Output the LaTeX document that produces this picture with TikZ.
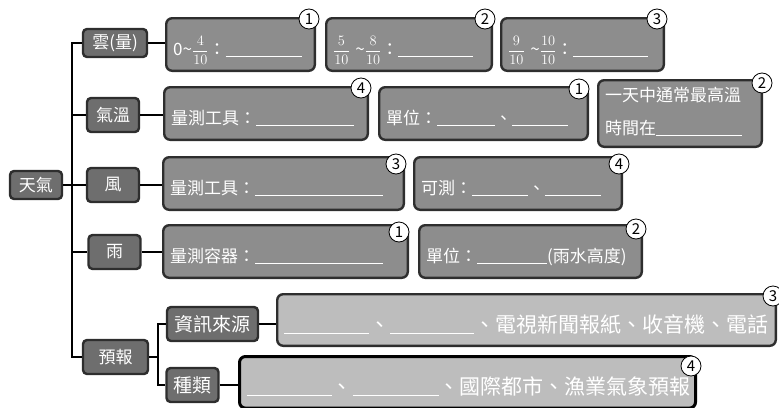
\documentclass[tikz,border=0pt]{standalone}
\usepackage[no-math]{fontspec}
\setmainfont{Noto Sans CJK TC}
\usepackage{amsmath}
\usepackage{xcolor}
\usepackage{tikz}

\definecolor{labgray}{HTML}{6E6E6E}
\definecolor{ansgray}{HTML}{8D8D8D}
\definecolor{palegray}{HTML}{BDBDBD}
\definecolor{rimgray}{HTML}{2E2E2E}
\newcommand{\blankln}[1]{\rule[-2pt]{#1pt}{1.3pt}}
\newcommand{\tenths}[1]{{\fontsize{14}{14}\selectfont$\dfrac{#1}{10}$}}

\begin{document}
\begin{tikzpicture}[x=1pt, y=-1pt, line width=2.4pt, every node/.style={text=white},
	lab/.style={draw=rimgray, fill=labgray, rounded corners=4pt, minimum width=52pt, minimum height=34pt, inner sep=4pt, font=\fontsize{17}{20}\selectfont},
	ans/.style={draw=rimgray, fill=ansgray, rounded corners=6pt, anchor=north west, inner xsep=7pt, inner ysep=9.8pt, text height=27pt, text depth=6pt, font=\fontsize{17}{20}\selectfont},
	big/.style={fill=palegray, text height=28pt, text depth=4pt, font=\fontsize{21}{24}\selectfont},
	num/.style={circle, draw=black, line width=0.8pt, fill=white, text=black, inner sep=0pt, minimum size=20pt, font=\fontsize{15}{15}\selectfont}]
	\useasboundingbox (0,0) rectangle (779,407);
	\node[lab, minimum height=28pt] (weather) at (36,185) {天氣};
	\node[lab, minimum height=28pt, minimum width=64pt] (cloud) at (115,43) {雲(量)};
	\node[lab] (temp) at (113,115) {氣溫};
	\node[lab] (wind) at (113,185) {風};
	\node[lab] (rain) at (114.5,252) {雨};
	\node[lab, minimum width=65pt] (fcast) at (115.5,357) {預報};
	\node[lab, minimum width=91pt, font=\fontsize{19}{22}\selectfont] (source) at (212.5,324) {資訊來源};
	\node[lab, font=\fontsize{19}{22}\selectfont] (kind) at (192.5,385) {種類};

	\node[ans, text width=134.6pt] (c1) at (165,17) {0\textasciitilde\tenths{4}：\blankln{76}};
	\node[ans, text width=151.6pt] (c2) at (325,17) {\tenths{5} \textasciitilde\tenths{8}：\blankln{75}};
	\node[ans, text width=148.6pt] (c3) at (500,17) {\tenths{9} \textasciitilde\tenths{10}：\blankln{75}};
	\node[ans, text width=189.6pt] (t1) at (163,86) {量測工具：\blankln{98}};
	\node[ans, text width=194.6pt] (t2) at (378,86) {單位：\blankln{58}、\blankln{56}};
	\node[ans, text width=149.6pt, text height=11pt, text depth=36pt, font=\fontsize{17}{33}\selectfont] (t3) at (597,79) {一天中通常最高溫\\時間在\blankln{86}};
	\node[ans, text width=226.6pt] (w1) at (162,156) {量測工具：\blankln{128}};
	\node[ans, text width=193.6pt] (w2) at (413,156) {可測：\blankln{56}、\blankln{56}};
	\node[ans, text width=230.6pt] (r1) at (162,224) {量測容器：\blankln{128}};
	\node[ans, text width=208.6pt] (r2) at (418,224) {單位：\blankln{70}(雨水高度)};
	\node[ans, big, text width=484.6pt] (s1) at (276,293) {\blankln{85}、\blankln{84}、電視新聞報紙、收音機、電話};
	\node[ans, big, draw=black, line width=3pt, text width=442pt] (k1) at (238,355) {\blankln{85}、\blankln{86}、國際都市、漁業氣象預報};

	\coordinate (fork) at (72,185);
	\coordinate (subfork) at (158,357);
	\draw (weather.east) -- (fork);
	\foreach \n in {cloud,temp,wind,rain,fcast}
		\draw (fork) |- (\n.west);
	\draw (fcast.east) -- (subfork);
	\foreach \n in {source,kind}
		\draw (subfork) |- (\n.west);
	\draw (cloud.east) -- (cloud.east -| c1.west);
	\draw (temp.east) -- (temp.east -| t1.west);
	\draw (wind.east) -- (wind.east -| w1.west);
	\draw (rain.east) -- (rain.east -| r1.west);
	\draw (source.east) -- (source.east -| s1.west);
	\draw (kind.east) -- (kind.east -| k1.west);

	\node[num] (m1) at (309,19) {1};
	\node[num] (m2) at (485,19) {2};
	\node[num] (m3) at (657,19) {3};
	\node[num] (m4) at (361,88) {4};
	\node[num] (m5) at (579,89) {1};
	\node[num] (m6) at (762,83) {2};
	\node[num] (m7) at (396,164) {3};
	\node[num] (m8) at (619,164) {4};
	\node[num] (m9) at (399,232) {1};
	\node[num] (m10) at (636,229) {2};
	\node[num] (m11) at (773,296) {3};
	\node[num] (m12) at (691,366) {4};
\end{tikzpicture}
\end{document}
